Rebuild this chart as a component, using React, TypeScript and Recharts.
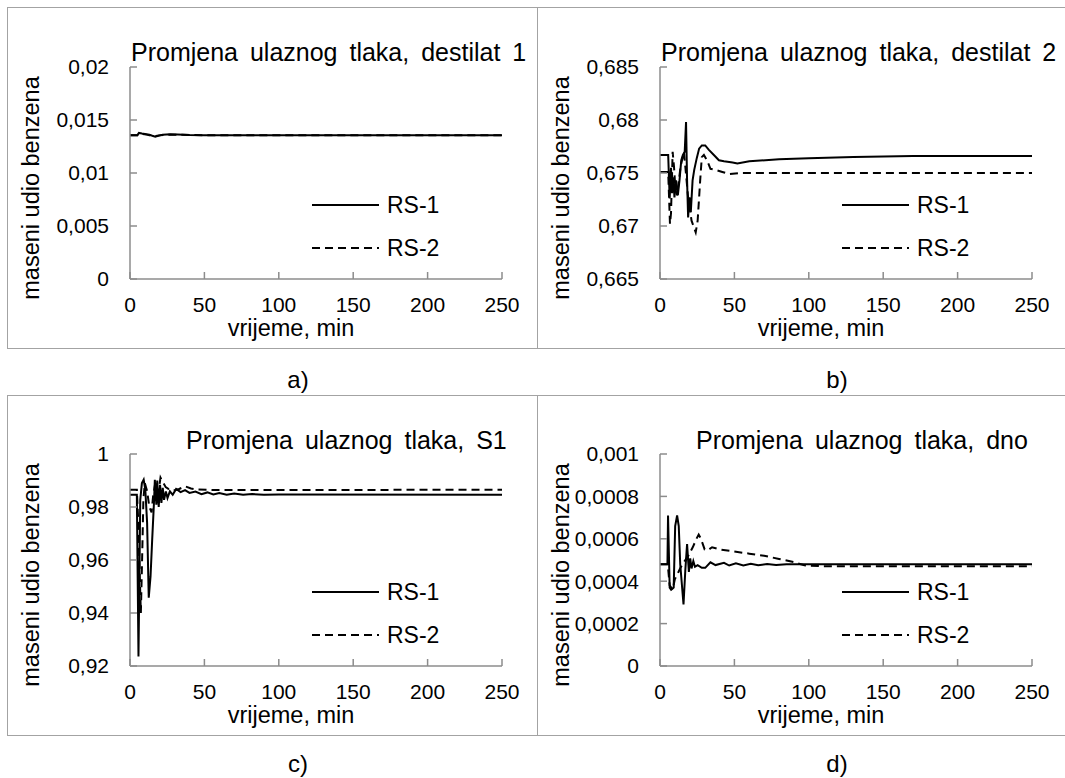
import { LineChart, Line, XAxis, YAxis, Legend } from 'recharts'

const FONT = '"Liberation Sans", Arial, sans-serif'
const AXIS = '#8c8c8c'
const BORDER = '#a3a3a3'

const timeTicks = [0, 50, 100, 150, 200, 250]

// a) destilat 1
const ticksA = [0, 0.005, 0.01, 0.015, 0.02]
const timeA1 = [0, 5, 6, 8, 10, 13, 15, 17, 19, 22, 27, 32, 40, 50, 250]
const rsA1 = [0.01357, 0.01357, 0.01378, 0.01372, 0.01368, 0.01362, 0.01352, 0.01343, 0.01352, 0.01362, 0.01366, 0.01364, 0.01359, 0.01357, 0.01357]
const timeA2 = [0, 5, 7, 11, 16, 20, 26, 35, 50, 250]
const rsA2 = [0.01356, 0.01356, 0.0137, 0.01362, 0.01348, 0.01355, 0.01362, 0.0136, 0.01356, 0.01356]

// b) destilat 2
const ticksB = [0.665, 0.67, 0.675, 0.68, 0.685]
const timeB1 = [0, 5.5, 6.5, 7.4, 8.1, 9, 9.7, 10.8, 12, 13.1, 14.3, 15.4, 16.6, 17.5, 18.2, 18.9, 19.8, 20.7, 21.9, 23, 24.7, 26.3, 28.1, 30.4, 32.7, 36.2, 39.6, 43, 48.8, 52, 60, 80, 100, 130, 170, 250]
const rsB1 = [0.6767, 0.6767, 0.6726, 0.6755, 0.6731, 0.6746, 0.6727, 0.6743, 0.6729, 0.6743, 0.6762, 0.6767, 0.677, 0.6798, 0.6743, 0.6708, 0.6727, 0.6713, 0.6743, 0.6753, 0.6764, 0.6773, 0.6776, 0.6776, 0.6772, 0.6767, 0.6762, 0.6761, 0.676, 0.6759, 0.6761, 0.6763, 0.6764, 0.6765, 0.6766, 0.6766]
const timeB2 = [0, 5.5, 6.7, 7.4, 8.5, 9.4, 10.4, 11.5, 13.8, 16.1, 18.9, 21.2, 24, 25.3, 27, 28.1, 29.5, 31.6, 33.9, 37.3, 41.9, 46.5, 53.5, 250]
const rsB2 = [0.6751, 0.6751, 0.6702, 0.6712, 0.677, 0.6756, 0.6734, 0.6729, 0.6756, 0.677, 0.6727, 0.6705, 0.6694, 0.6705, 0.6743, 0.6765, 0.6767, 0.6762, 0.6754, 0.6753, 0.6751, 0.6749, 0.675, 0.675]

// c) S1
const ticksC = [0.92, 0.94, 0.96, 0.98, 1]
const timeC1 = [0, 4.6, 5.7, 6.9, 8, 9.2, 10.3, 11.5, 12.6, 13.8, 14.9, 16.1, 16.7, 17.7, 18.3, 19.3, 20.2, 21.1, 22, 22.9, 24.1, 25.2, 26.8, 28.7, 31, 34, 37, 40, 44, 48, 52, 56, 60, 65, 70, 76, 82, 90, 100, 250]
const rsC1 = [0.9846, 0.9846, 0.9236, 0.9827, 0.989, 0.9903, 0.9865, 0.974, 0.9458, 0.9538, 0.9676, 0.9815, 0.9903, 0.9809, 0.99, 0.98, 0.9884, 0.9815, 0.9872, 0.9827, 0.9859, 0.9834, 0.9859, 0.9846, 0.9868, 0.9856, 0.9864, 0.9853, 0.9858, 0.9848, 0.9855, 0.9847, 0.9853, 0.9846, 0.9851, 0.9846, 0.9849, 0.9846, 0.9847, 0.9846]
const timeC2 = [0, 4.6, 5.5, 6.5, 7.3, 8.2, 9, 10, 11.5, 13, 14.5, 15.5, 17, 18.5, 20.5, 22, 24, 26, 29, 33, 37, 41, 45, 55, 250]
const rsC2 = [0.9865, 0.9865, 0.975, 0.955, 0.94, 0.962, 0.983, 0.989, 0.986, 0.98, 0.978, 0.984, 0.989, 0.983, 0.9911, 0.9895, 0.9875, 0.9868, 0.9862, 0.9868, 0.9878, 0.987, 0.9866, 0.9864, 0.9865]

// d) dno
const ticksD = [0, 0.0002, 0.0004, 0.0006, 0.0008, 0.001]
const timeD1 = [0, 5, 5.4, 6.5, 7.5, 9.2, 10.2, 11.5, 12.6, 13.6, 15.8, 17, 18.2, 19.4, 20.3, 21.2, 22.4, 23.5, 25.3, 28.1, 30.4, 33.9, 37.3, 43, 46.5, 51, 56, 61, 66, 72, 78, 85, 250]
const rsD1 = [0.00048, 0.00048, 0.00071, 0.00037, 0.00036, 0.00037, 0.00066, 0.00071, 0.00066, 0.00048, 0.00029, 0.00045, 0.000575, 0.000444, 0.000508, 0.00046, 0.000495, 0.000468, 0.000476, 0.000463, 0.000463, 0.000489, 0.000476, 0.000487, 0.000474, 0.000484, 0.000474, 0.000482, 0.000475, 0.000481, 0.000476, 0.00048, 0.00048]
const timeD2 = [0, 5.2, 6.5, 8.5, 10, 11.5, 13.5, 16, 19, 22, 24.5, 26, 27.5, 30, 32, 35, 40, 50, 60, 70, 80, 90, 97, 110, 250]
const rsD2 = [0.00048, 0.00048, 0.00038, 0.00036, 0.00041, 0.00043, 0.00046, 0.00049, 0.00052, 0.00056, 0.0006, 0.00062, 0.0006, 0.00055, 0.000545, 0.00056, 0.00055, 0.00054, 0.00053, 0.00052, 0.000505, 0.00049, 0.000475, 0.00047, 0.00047]

const zip = (t: number[], v: number[]) => t.map((x, i) => ({ t: x, v: v[i] }))
const comma = (n: number) => String(n).replace('.', ',')

const legendContent = () => (
  <svg width={150} height={90} style={{ display: 'block' }}>
    <line x1={0} y1={22} x2={67} y2={22} stroke="#000" strokeWidth={2} />
    <text x={75} y={30} fontFamily={FONT} fontSize={23}>RS-1</text>
    <line x1={0} y1={65} x2={67} y2={65} stroke="#000" strokeWidth={2} strokeDasharray="8 5" />
    <text x={75} y={73} fontFamily={FONT} fontSize={23}>RS-2</text>
  </svg>
)

interface PanelProps {
  left: number
  top: number
  title: string
  titleLeft: number
  titleTop: number
  yTicks: number[]
  rs1: { t: number; v: number }[]
  rs2: { t: number; v: number }[]
}

function Panel({ left, top, title, titleLeft, titleTop, yTicks, rs1, rs2 }: PanelProps) {
  return (
    <>
      <div style={{ position: 'absolute', left, top }}>
        <LineChart width={529} height={339} margin={{ top: 59, right: 35, bottom: 28, left: 42 }}>
          <XAxis
            dataKey="t"
            type="number"
            domain={[0, 250]}
            ticks={timeTicks}
            height={40}
            stroke={AXIS}
            strokeWidth={1.5}
            tickSize={-7}
            tickMargin={25}
            tick={{ fill: '#000', fontSize: 21, fontFamily: FONT }}
            label={{
              content: (p: any) => (
                <text x={p.viewBox.x + p.viewBox.width / 2 - 25} y={p.viewBox.y + 57} textAnchor="middle" fontFamily={FONT} fontSize={23.5}>
                  vrijeme, min
                </text>
              ),
            }}
          />
          <YAxis
            type="number"
            domain={[yTicks[0], yTicks[yTicks.length - 1]]}
            ticks={yTicks}
            width={80}
            stroke={AXIS}
            strokeWidth={1.5}
            tickSize={-7}
            tickMargin={28}
            tickFormatter={comma}
            tick={{ fill: '#000', fontSize: 21, fontFamily: FONT }}
            label={{
              content: (p: any) => {
                const x = p.viewBox.x - 11
                const y = p.viewBox.y + p.viewBox.height / 2 + 15
                return (
                  <text x={x} y={y} transform={`rotate(-90 ${x} ${y})`} textAnchor="middle" fontFamily={FONT} fontSize={23.5}>
                    maseni udio benzena
                  </text>
                )
              },
            }}
          />
          <Legend
            layout="vertical"
            align="center"
            verticalAlign="middle"
            content={legendContent}
            wrapperStyle={{ left: 304, top: 175, width: 150, height: 90 }}
          />
          <Line data={rs1} dataKey="v" name="RS-1" type="linear" stroke="#000" strokeWidth={2} dot={false} isAnimationActive={false} />
          <Line data={rs2} dataKey="v" name="RS-2" type="linear" stroke="#000" strokeWidth={2} strokeDasharray="8 5" dot={false} isAnimationActive={false} />
        </LineChart>
      </div>
      <div style={{ position: 'absolute', left: titleLeft, top: titleTop, fontFamily: FONT, fontSize: 25, lineHeight: '25px', whiteSpace: 'nowrap', wordSpacing: 5 }}>
        {title}
      </div>
    </>
  )
}

const captionStyle = { position: 'absolute' as const, width: 60, textAlign: 'center' as const, fontFamily: FONT, fontSize: 24, lineHeight: '24px' }

export default function App() {
  return (
    <div style={{ position: 'absolute', left: 0, top: 0, width: 1065, height: 778, background: '#fff', overflow: 'hidden' }}>
      <div style={{ position: 'absolute', left: 7, top: 7, width: 1070, height: 340, borderTop: `1.5px solid ${BORDER}`, borderLeft: `1.5px solid ${BORDER}`, borderBottom: `1.5px solid ${BORDER}` }} />
      <div style={{ position: 'absolute', left: 537, top: 7, width: 0, height: 341, borderLeft: `1.5px solid ${BORDER}` }} />
      <div style={{ position: 'absolute', left: 7, top: 395, width: 1070, height: 339, borderTop: `1.5px solid ${BORDER}`, borderLeft: `1.5px solid ${BORDER}`, borderBottom: `1.5px solid ${BORDER}` }} />
      <div style={{ position: 'absolute', left: 537, top: 395, width: 0, height: 340, borderLeft: `1.5px solid ${BORDER}` }} />

      <Panel left={8} top={8} title="Promjena ulaznog tlaka, destilat 1" titleLeft={131} titleTop={40} yTicks={ticksA} rs1={zip(timeA1, rsA1)} rs2={zip(timeA2, rsA2)} />
      <Panel left={538} top={8} title="Promjena ulaznog tlaka, destilat 2" titleLeft={661} titleTop={40} yTicks={ticksB} rs1={zip(timeB1, rsB1)} rs2={zip(timeB2, rsB2)} />
      <Panel left={8} top={395} title="Promjena ulaznog tlaka, S1" titleLeft={186} titleTop={428} yTicks={ticksC} rs1={zip(timeC1, rsC1)} rs2={zip(timeC2, rsC2)} />
      <Panel left={538} top={395} title="Promjena ulaznog tlaka, dno" titleLeft={696} titleTop={428} yTicks={ticksD} rs1={zip(timeD1, rsD1)} rs2={zip(timeD2, rsD2)} />

      <div style={{ ...captionStyle, left: 268, top: 368 }}>a)</div>
      <div style={{ ...captionStyle, left: 807, top: 368 }}>b)</div>
      <div style={{ ...captionStyle, left: 268, top: 752 }}>c)</div>
      <div style={{ ...captionStyle, left: 807, top: 752 }}>d)</div>
    </div>
  )
}
